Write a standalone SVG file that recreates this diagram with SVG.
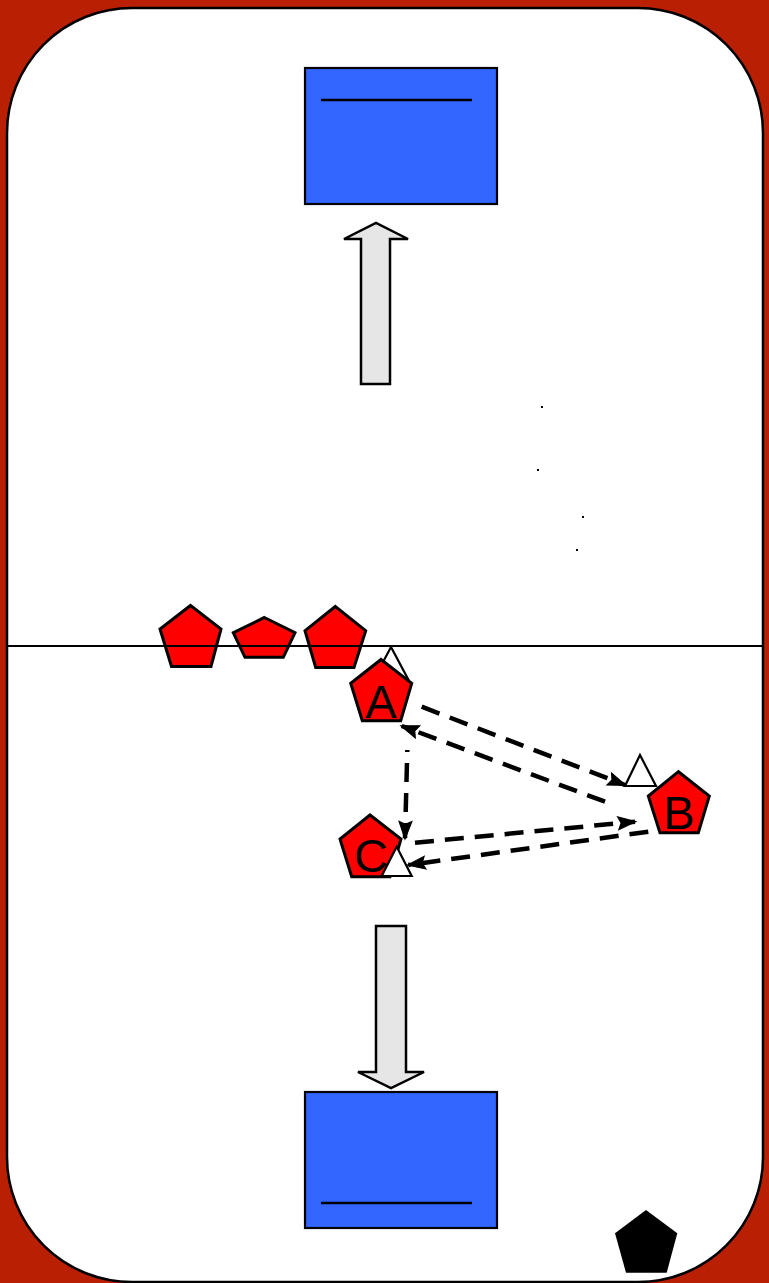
<svg xmlns="http://www.w3.org/2000/svg" width="769" height="1283" viewBox="0 0 769 1283">
<style>
.red{fill:#FF0000;stroke:#000;stroke-width:3;stroke-linejoin:miter}
.tri{fill:#fff;stroke:#000;stroke-width:2.2}
.goal{fill:#3366FF;stroke:#000;stroke-width:2.2}
.gl{stroke:#000;stroke-width:2.5}
.big{fill:#E6E6E6;stroke:#000;stroke-width:2.5}
.pass{fill:none;stroke:#000;stroke-width:4.5;stroke-dasharray:19 11;marker-end:url(#ah)}
.lbl{font-family:"Liberation Sans",Arial,sans-serif;font-size:47px;fill:#000;text-anchor:middle}
</style>
<defs>
<marker id="ah" markerUnits="userSpaceOnUse" markerWidth="22" markerHeight="18" refX="17" refY="8" orient="auto" overflow="visible">
<path d="M0,1.5 L18,8 L0,14.5 L3,8 Z" fill="#000" stroke="#000" stroke-width="1" stroke-linejoin="miter"/>
</marker>
</defs>
<rect x="0" y="0" width="769" height="1283" fill="#B81F03"/>
<g id="rink">
<rect x="7" y="8" width="756" height="1274" rx="125" ry="125" fill="#fff" stroke="#000" stroke-width="2.5"/>
</g>
<g id="goal-top">
<rect class="goal" x="305" y="68" width="192" height="136"/>
<line class="gl" x1="321" y1="100" x2="472" y2="100"/>
</g>
<g id="goal-bottom">
<rect class="goal" x="305" y="1092" width="192" height="136"/>
<line class="gl" x1="321" y1="1203" x2="472" y2="1203"/>
</g>
<g id="arrow-up">
<path class="big" d="M361,384 L361,239 L344,239 L376,223 L408,239 L390,239 L390,384 Z"/>
</g>
<g id="arrow-down">
<path class="big" d="M376,926 L406,926 L406,1072 L424,1072 L391,1088 L358,1072 L376,1072 Z"/>
</g>
<g id="dots" fill="#000">
<rect x="541" y="406" width="2" height="2"/>
<rect x="537" y="469" width="2" height="2"/>
<rect x="582" y="516" width="2" height="2"/>
<rect x="576" y="549" width="2" height="2"/>
</g>
<g id="players-line">
<polygon class="red" points="190.5,605.5 221,629 211,666.5 171.5,666.5 160,629"/>
<polygon class="red" points="264.3,617.5 295,632.7 283.3,657.3 245,657.3 233.3,632.7"/>
<polygon class="red" points="335.3,606.5 365.7,630.7 354,667.5 315.7,667.5 305,630.7"/>
</g>
<g id="center-line">
<line x1="7" y1="646" x2="763" y2="646" stroke="#000" stroke-width="2"/>
</g>
<g id="cone-a"><polygon class="tri" points="391,647 408,679 374,679"/></g>
<g id="player-a">
<polygon class="red" points="381,659.5 411.7,683.3 400.7,720.7 362.3,720.7 350.7,683.3"/>
<text class="lbl" x="381" y="718">A</text>
</g>
<g id="cone-b"><polygon class="tri" points="640,755 656,786 625,786"/></g>
<g id="player-b">
<polygon class="red" points="678.5,771.7 709.3,796 698.3,832.7 660,832.7 648.3,796"/>
<text class="lbl" x="679" y="829">B</text>
</g>
<g id="player-c">
<polygon class="red" points="370,815 401,839 390,876.7 351.7,876.7 340,839"/>
<text class="lbl" x="371" y="872">C</text>
</g>
<g id="cone-c"><polygon class="tri" points="396.7,846.7 411.7,876 381.7,876"/></g>
<g id="connectors">
<path class="pass" d="M421.7,706.7 L625,785"/>
<path class="pass" d="M605,801.7 L401.7,726"/>
<path class="pass" style="stroke-dashoffset:17" d="M407.3,750 L405,838.3"/>
<path class="pass" d="M415,842.7 L635,821.7"/>
<path class="pass" d="M648.3,831.7 L408.3,865"/>
</g>
<g id="coach">
<polygon points="646,1210 677.3,1233.3 666.7,1272.7 626,1272.7 615,1233.3" fill="#000"/>
</g>
</svg>
